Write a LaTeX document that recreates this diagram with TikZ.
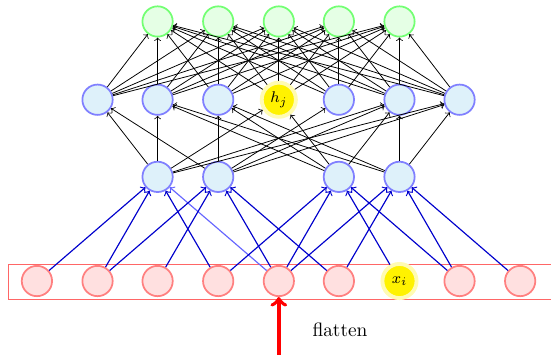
\documentclass[tikz,border=0pt]{standalone}
\usepackage{tikz}

\definecolor{hidfill}{RGB}{222,241,250}

\begin{document}
\begin{tikzpicture}[
	unit/.style={circle,minimum size=0.55cm,inner sep=0pt,line width=0.9pt},
	inp/.style={unit,draw=red!50,fill=red!12},
	hid/.style={unit,draw=blue!50,fill=hidfill},
	outp/.style={unit,draw=green!55,fill=green!10},
	hl/.style={unit,fill=yellow,draw=yellow!30,line width=2pt,minimum size=0.62cm,font=\footnotesize},
	wire/.style={->,thin},
	bwire/.style={->,semithick,blue!80!black}
	]
	\useasboundingbox (0,0) rectangle (10,6.44);

	    % input (flattened)
	    \draw[red!60] (0.15,1.0) rectangle (10.4,1.65);
	    \node[inp] (b1) at (0.67,1.34) {};
	    \node[inp] (b2) at (1.77,1.34) {};
	    \node[inp] (b3) at (2.86,1.34) {};
	    \node[inp] (b4) at (3.96,1.34) {};
	    \node[inp] (b5) at (5.06,1.34) {};
	    \node[inp] (b6) at (6.15,1.34) {};
	    \node[hl]  (b7) at (7.25,1.34) {$x_i$};
	    \node[inp] (b8) at (8.34,1.34) {};
	    \node[inp] (b9) at (9.44,1.34) {};

	    \coordinate (src) at (5.06,0);
	    \draw[->,red,line width=2pt] (src) -- (b5);
	    \node (lbl) at (6.17,0.45) {flatten};

	    % first hidden layer
	    \node[hid] (a1) at (2.86,3.23) {};
	    \node[hid] (a2) at (3.96,3.23) {};
	    \node[hid] (a3) at (6.15,3.23) {};
	    \node[hid] (a4) at (7.25,3.23) {};

	    % second hidden layer
	    \node[hid] (c1) at (1.77,4.63) {};
	    \node[hid] (c2) at (2.86,4.63) {};
	    \node[hid] (c3) at (3.96,4.63) {};
	    \node[hl]  (c4) at (5.06,4.63) {$h_j$};
	    \node[hid] (c5) at (6.15,4.63) {};
	    \node[hid] (c6) at (7.25,4.63) {};
	    \node[hid] (c7) at (8.34,4.63) {};

	    % output
	    \node[outp] (o1) at (2.86,6.05) {};
	    \node[outp] (o2) at (3.96,6.05) {};
	    \node[outp] (o3) at (5.06,6.05) {};
	    \node[outp] (o4) at (6.15,6.05) {};
	    \node[outp] (o5) at (7.25,6.05) {};

	    \draw[bwire,blue!60] (b5) -- (a1);
	    \foreach \s/\t in {b1/a1,b2/a1,b2/a2,b3/a2,b4/a1,b4/a3,b5/a2,b5/a3,b5/a4,
	                       b6/a2,b6/a4,b7/a3,b8/a3,b8/a4,b9/a4}
	        \draw[bwire] (\s) -- (\t);

	    \foreach \s/\t in {a1/c1,a1/c2,a1/c4,a1/c6,a1/c7,a2/c1,a2/c3,a2/c5,a2/c6,a2/c7,
	                       a3/c2,a3/c3,a3/c4,a3/c6,a4/c2,a4/c3,a4/c6,a4/c7}
	        \draw[wire] (\s) -- (\t);

	    \foreach \s in {1,...,7}
	        \foreach \t in {1,...,5}
	            \draw[wire] (c\s) -- (o\t);

	\end{tikzpicture}
\end{document}
